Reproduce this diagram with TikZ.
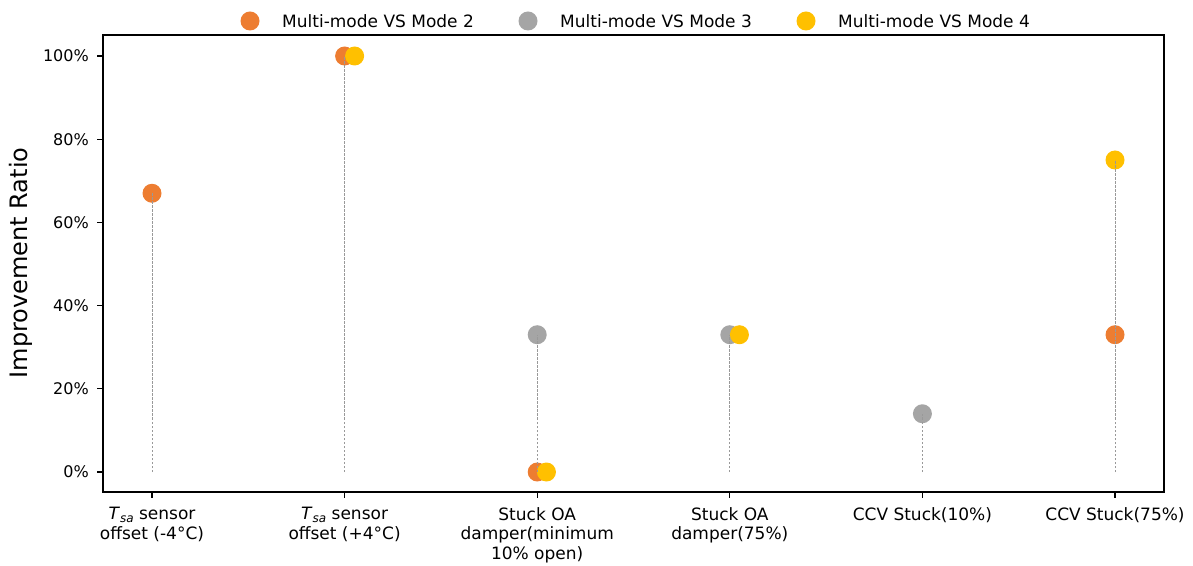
\documentclass[tikz,border=0pt]{standalone}
\usepackage{fontspec}
\setmainfont{DejaVu Sans}
\definecolor{modetwo}{HTML}{ED7D31}
\definecolor{modethree}{HTML}{A5A5A5}
\definecolor{modefour}{HTML}{FFC000}
\newcommand{\tsa}{\textit{T}\raisebox{-3pt}{\fontsize{12}{12}\selectfont\textit{sa}}}
\tikzset{
    dot/.style={circle, fill=#1, inner sep=0pt, minimum size=19pt},
    stem/.style={draw=gray!80, line width=0.8pt, dash pattern=on 2.5pt off 1.5pt},
    ticklab/.style={font=\fontsize{16}{19}\selectfont, anchor=east, inner sep=0pt},
    catlab/.style={font=\fontsize{17}{19.5}\selectfont, align=center, anchor=north, inner sep=0pt},
    leglab/.style={font=\fontsize{17}{20}\selectfont, anchor=west, inner sep=0pt}
}
\begin{document}
\begin{tikzpicture}[x=1pt, y=1pt]
    \useasboundingbox (0,0) rectangle (1193,565);
    \begin{scope}[shift={(152,93)}, x=192.6pt, y=4.16pt]
        % axes and ticks
        \draw[line width=1.2pt] (-0.2544,-4.8) rectangle (5.254,105.05);
        \foreach \v in {0,20,...,100}
        {
            \draw[line width=1.2pt] (-0.2544,\v) -- ++(-6pt,0);
            \node[ticklab] (yt\v) at (-0.2544,\v) [xshift=-14pt] {\v\%};
        }
        \foreach \i in {0,...,5}
        {
            \draw[line width=1.2pt] (\i,-4.8) -- ++(0,-6pt);
            \coordinate (base\i) at (\i,0);
        }
        % category labels
        \node[catlab] (cat0) at (0,-4.8) [yshift=-15pt] {\tsa{} sensor\\offset (-4°C)};
        \node[catlab] (cat1) at (1,-4.8) [yshift=-15pt] {\tsa{} sensor\\offset (+4°C)};
        \node[catlab] (cat2) at (2,-4.8) [yshift=-15pt] {Stuck OA\\damper(minimum\\10\% open)};
        \node[catlab] (cat3) at (3,-4.8) [yshift=-15pt] {Stuck OA\\damper(75\%)};
        \node[catlab] (cat4) at (4,-4.8) [yshift=-15pt] {CCV Stuck(10\%)};
        \node[catlab] (cat5) at (5,-4.8) [yshift=-15pt] {CCV Stuck(75\%)};
        % mode 2
        \node[dot=modetwo] (two0) at (0,67) {};
        \node[dot=modetwo] (two1) at (1,100) {};
        \node[dot=modetwo] (two2) at (2,0) {};
        \node[dot=modetwo] (two5) at (5,33) {};
        % mode 3
        \node[dot=modethree] (three2) at (2,33) {};
        \node[dot=modethree] (three3) at (3,33) {};
        \node[dot=modethree] (three4) at (4,14) {};
        % mode 4
        \node[dot=modefour] (four1) at (1.052,100) {};
        \node[dot=modefour] (four2) at (2.048,0) {};
        \node[dot=modefour] (four3) at (3.05,33) {};
        \node[dot=modefour] (four5) at (5,75) {};
        % stems
        \draw[stem] (base0) -- (two0.center);
        \draw[stem] (base1) -- (two1.center);
        \draw[stem] (base2) -- (three2.center);
        \draw[stem] (base3) -- (three3.center);
        \draw[stem] (base4) -- (three4.center);
        \draw[stem] (base5) -- (four5.center);
    \end{scope}
    \node[rotate=90, font=\fontsize{24}{28}\selectfont] (ylab) at (21,302) {Improvement Ratio};
    % legend
    \node[dot=modetwo] (leg2) at (250,544) {};
    \node[leglab] (legtxt2) at (282,544) {Multi-mode VS Mode 2};
    \node[dot=modethree] (leg3) at (528,544) {};
    \node[leglab] (legtxt3) at (560,544) {Multi-mode VS Mode 3};
    \node[dot=modefour] (leg4) at (806,544) {};
    \node[leglab] (legtxt4) at (838,544) {Multi-mode VS Mode 4};
\end{tikzpicture}
\end{document}
